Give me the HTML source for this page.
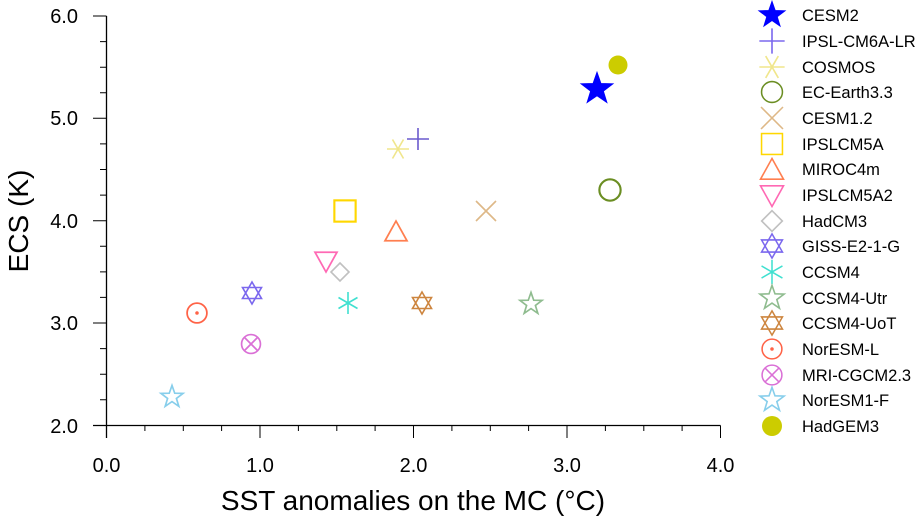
<!DOCTYPE html>
<html><head><meta charset="utf-8"><style>
body{margin:0;background:#fff}
svg{display:block;font-family:"Liberation Sans",sans-serif}
</style></head><body>
<svg width="917" height="520" viewBox="0 0 917 520">
<defs>
<path id="star" d="M0,-11 L2.6,-3.6 L10.5,-3.4 L4.2,1.4 L6.5,8.9 L0,4.4 L-6.5,8.9 L-4.2,1.4 L-10.5,-3.4 L-2.6,-3.6 Z"/>
<path id="hex" d="M0,-11 L9.5,5.5 L-9.5,5.5 Z M0,11 L9.5,-5.5 L-9.5,-5.5 Z"/>
<g id="plus"><path d="M-11,0 H11 M0,-11 V11"/></g>
<g id="aster"><path d="M-11,0 H11 M-5.5,-9.5 L5.5,9.5 M5.5,-9.5 L-5.5,9.5"/></g>
<g id="aster2"><path d="M0,-11 V11 M-9.5,-5.5 L9.5,5.5 M9.5,-5.5 L-9.5,5.5"/></g>
<g id="cross"><path d="M-10,-10 L10,10 M10,-10 L-10,10"/></g>
<circle id="circ" r="9.5"/>
<rect id="sq" x="-9.5" y="-9.5" width="19" height="19"/>
<path id="tri" d="M0,-10 L10,8 L-10,8 Z"/>
<path id="dtri" d="M0,10 L10,-8 L-10,-8 Z"/>
<path id="dia" d="M0,-9 L9,0 L0,9 L-9,0 Z"/>
<g id="cdot"><circle r="9"/><circle r="1.6" stroke="none" fill="currentColor"/></g>
<g id="cx"><circle r="9"/><path d="M-6.4,-6.4 L6.4,6.4 M6.4,-6.4 L-6.4,6.4"/></g>
</defs>
<g stroke="#000" stroke-width="1.3" fill="none">
<path d="M106.5,16 V438 M93,425.5 H720.5"/>
</g>
<g stroke="#000" stroke-width="1">
<path d="M93,16 H106.5 M93,118.3 H106.5 M93,220.7 H106.5 M93,323 H106.5
M100,41.6 H106.5 M100,67.2 H106.5 M100,92.7 H106.5 M100,143.9 H106.5 M100,169.5 H106.5 M100,195.1 H106.5 M100,246.3 H106.5 M100,271.9 H106.5 M100,297.4 H106.5 M100,348.6 H106.5 M100,374.2 H106.5 M100,399.8 H106.5"/>
<path d="M260,425.5 V438 M413.5,425.5 V438 M567,425.5 V438 M720.5,425.5 V438
M144.9,425.5 V431 M183.3,425.5 V431 M221.6,425.5 V431 M298.4,425.5 V431 M336.8,425.5 V431 M375.1,425.5 V431 M451.9,425.5 V431 M490.3,425.5 V431 M528.6,425.5 V431 M605.4,425.5 V431 M643.8,425.5 V431 M682.1,425.5 V431"/>
</g>
<g font-size="20" fill="#000" text-anchor="end">
<text x="78" y="23">6.0</text><text x="78" y="125">5.0</text><text x="78" y="228">4.0</text><text x="78" y="330">3.0</text><text x="78" y="433">2.0</text>
</g>
<g font-size="20" fill="#000" text-anchor="middle">
<text x="106.5" y="472">0.0</text><text x="260" y="472">1.0</text><text x="413.5" y="472">2.0</text><text x="567" y="472">3.0</text><text x="720.5" y="472">4.0</text>
</g>
<text x="413" y="510" font-size="28" text-anchor="middle">SST anomalies on the MC (°C)</text>
<text transform="translate(28,221) rotate(-90)" font-size="28" text-anchor="middle">ECS (K)</text>
<g fill="none" stroke-width="1.6">
<use href="#star" transform="translate(597,89) scale(1.35)" fill="#0000ff" stroke="#0000ff"/>
<use href="#plus" x="418" y="139" stroke="#6a5acd"/>
<use href="#aster" x="398" y="149" stroke="#f0e68c"/>
<use href="#circ" transform="translate(610,190) scale(1.12)" stroke="#6b8e23" stroke-width="1.9"/>
<use href="#cross" x="486" y="211" stroke="#deb887"/>
<use href="#sq" transform="translate(345,211) scale(1.12)" stroke="#ffd700" stroke-width="1.9"/>
<use href="#tri" transform="translate(396,232) scale(1.1)" stroke="#ff7f50"/>
<use href="#dtri" transform="translate(326,261) scale(1.1)" stroke="#ff69b4"/>
<use href="#dia" x="340" y="272" stroke="#c0c0c0"/>
<use href="#hex" x="252" y="293" stroke="#7b68ee"/>
<use href="#aster2" x="348" y="303" stroke="#40e0d0"/>
<use href="#star" transform="translate(531,304) scale(1.05)" stroke="#8fbc8f"/>
<use href="#hex" x="422" y="303" stroke="#cd853f"/>
<use href="#cdot" transform="translate(197,313) scale(1.1)" stroke="#ff6347" color="#ff6347"/>
<use href="#cx" transform="translate(251,344) scale(1.05)" stroke="#da70d6"/>
<use href="#star" transform="translate(172,397) scale(1.05)" stroke="#87ceeb"/>
<circle cx="618" cy="65" r="9.5" fill="#cccc00"/>
</g>
<g fill="none" stroke-width="1.4">
<use href="#star" transform="translate(772,15) scale(1.15)" fill="#0000ff" stroke="#0000ff"/>
<use href="#plus" transform="translate(772,41) scale(1.15)" stroke="#7b68ee"/>
<use href="#aster" transform="translate(772,67) scale(1.15)" stroke="#f0e68c"/>
<use href="#circ" transform="translate(772,92) scale(1.1)" stroke="#6b8e23"/>
<use href="#cross" transform="translate(772,118) scale(1.1)" stroke="#deb887"/>
<use href="#sq" transform="translate(772,144) scale(1.1)" stroke="#ffd700"/>
<use href="#tri" transform="translate(772,170) scale(1.15)" stroke="#ff7f50"/>
<use href="#dtri" transform="translate(772,195) scale(1.15)" stroke="#ff69b4"/>
<use href="#dia" transform="translate(772,221) scale(1.15)" stroke="#c0c0c0"/>
<use href="#hex" transform="translate(772,246) scale(1.1)" stroke="#7b68ee"/>
<use href="#aster2" transform="translate(772,272) scale(1.1)" stroke="#40e0d0"/>
<use href="#star" transform="translate(772,298) scale(1.15)" stroke="#8fbc8f"/>
<use href="#hex" transform="translate(772,323) scale(1.1)" stroke="#cd853f"/>
<use href="#cdot" transform="translate(772,349) scale(1.1)" stroke="#ff6347" color="#ff6347"/>
<use href="#cx" transform="translate(772,375) scale(1.1)" stroke="#da70d6"/>
<use href="#star" transform="translate(772,400) scale(1.15)" stroke="#87ceeb"/>
<circle cx="772" cy="426" r="10" fill="#cccc00"/>
</g>
<g font-size="16.5" fill="#000">
<text x="802" y="21">CESM2</text><text x="802" y="47">IPSL-CM6A-LR</text><text x="802" y="73">COSMOS</text><text x="802" y="98">EC-Earth3.3</text><text x="802" y="124">CESM1.2</text><text x="802" y="150">IPSLCM5A</text><text x="802" y="175">MIROC4m</text><text x="802" y="201">IPSLCM5A2</text><text x="802" y="227">HadCM3</text><text x="802" y="252">GISS-E2-1-G</text><text x="802" y="278">CCSM4</text><text x="802" y="304">CCSM4-Utr</text><text x="802" y="329">CCSM4-UoT</text><text x="802" y="355">NorESM-L</text><text x="802" y="381">MRI-CGCM2.3</text><text x="802" y="406">NorESM1-F</text><text x="802" y="432">HadGEM3</text>
</g>
</svg>
</body></html>
